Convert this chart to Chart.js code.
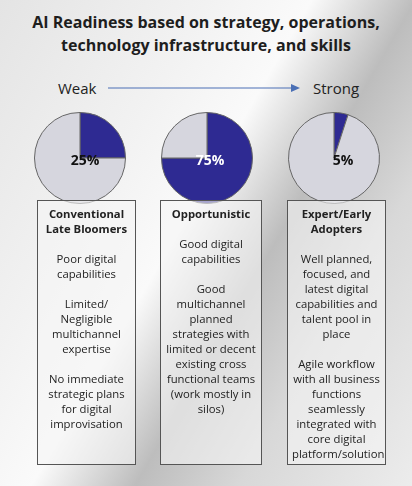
<!DOCTYPE html>
<html><head>
<script src="https://cdn.jsdelivr.net/npm/chart.js"></script>
<style>
body{margin:0;width:412px;height:486px;overflow:hidden;font-family:"Open Sans",sans-serif;
background:linear-gradient(120deg,#e4e4e4 0%,#f2f2f2 30%,#fafafa 45%,#bdbdbd 60%,#d8d8d8 75%,#ececec 100%);position:relative}
.t{position:absolute;left:0;width:412px;text-align:center;font-weight:bold;font-size:16px;color:#1e1e1e;top:11px;line-height:23px}
.lab{position:absolute;font-size:15px;color:#222;top:78px}
.pie{position:absolute;top:112px;width:92px;height:92px}
.pct{position:absolute;font-weight:bold;font-size:14px;top:150px;width:60px;text-align:center}
.box{position:absolute;top:200px;height:265px;border:1.5px solid #555;box-sizing:border-box;background:rgba(245,245,245,0.6);
text-align:center;font-size:11.3px;color:#222;line-height:15px;padding:5px 4px}
.box b{display:block;margin-bottom:15px}
.box p{margin:0 0 15px 0}
</style></head><body>
<div class="t">AI Readiness based on strategy, operations,<br>technology infrastructure, and skills</div>
<div class="lab" style="left:58px">Weak</div>
<div class="lab" style="left:313px">Strong</div>
<svg style="position:absolute;left:0;top:0" width="412" height="120"><line x1="108" y1="88" x2="292" y2="88" stroke="#4a6fb5" stroke-width="1"/><polygon points="300,88 291,84 291,92" fill="#4a6fb5"/></svg>
<div class="pie" style="left:34px"><canvas id="c0"></canvas></div>
<div class="pie" style="left:161px"><canvas id="c1"></canvas></div>
<div class="pie" style="left:288px"><canvas id="c2"></canvas></div>
<div class="pct" style="left:55px;color:#111">25%</div>
<div class="pct" style="left:180px;color:#fff">75%</div>
<div class="pct" style="left:313px;color:#111">5%</div>
<div class="box" style="left:37px;width:99px"><b>Conventional Late Bloomers</b><p>Poor digital capabilities</p><p>Limited/ Negligible multichannel expertise</p><p>No immediate strategic plans for digital improvisation</p></div>
<div class="box" style="left:160px;width:102px"><b>Opportunistic</b><p>Good digital capabilities</p><p>Good multichannel planned strategies with limited or decent existing cross functional teams (work mostly in silos)</p></div>
<div class="box" style="left:287px;width:99px"><b>Expert/Early Adopters</b><p>Well planned, focused, and latest digital capabilities and talent pool in place</p><p>Agile workflow with all business functions seamlessly integrated with core digital platform/solution</p></div>
<script>
const categories=["AI ready","Not ready"];
const readiness=[25,75,5];
const blue="#2e2a92", grey="#d6d6de";
readiness.forEach((v,i)=>{
 new Chart(document.getElementById("c"+i),{type:"pie",
  data:{labels:categories,datasets:[{data:[v,100-v],backgroundColor:[blue,grey],borderColor:"#666",borderWidth:1}]},
  options:{responsive:true,maintainAspectRatio:false,animation:false,plugins:{legend:{display:false},tooltip:{enabled:false}}}});
});
</script>
</body></html>
